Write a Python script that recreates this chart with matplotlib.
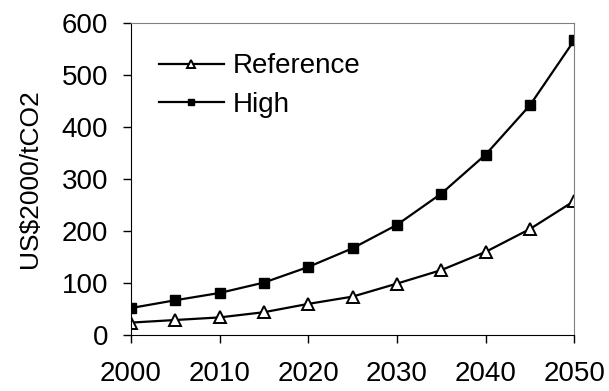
import matplotlib.pyplot as plt

plt.rcParams['font.family'] = ['Liberation Sans', 'DejaVu Sans']

years = [2000, 2005, 2010, 2015, 2020, 2025, 2030, 2035, 2040, 2045, 2050]
reference = [24, 29, 34, 44, 60, 74, 99, 125, 160, 204, 258]
high = [52, 67, 81, 101, 131, 167, 212, 272, 347, 442, 567]

fig = plt.figure(figsize=(6.09, 3.91), dpi=100)
ax = fig.add_axes([0.215, 0.143, 0.728, 0.798])

ax.plot(years, reference, color='black', lw=1.6, marker='^', ms=8,
        mfc='white', mec='black', mew=1.4, label='Reference')
ax.plot(years, high, color='black', lw=1.6, marker='s', ms=6.5,
        mfc='black', mec='black', label='High')

ax.set_xlim(2000, 2050)
ax.set_ylim(0, 600)
ax.set_xticks(range(2000, 2051, 10))
ax.set_yticks(range(0, 601, 100))
ax.tick_params(labelsize=20, width=1, direction='out')
ax.tick_params(axis='y', length=5.5, pad=11)
ax.tick_params(axis='x', length=6, pad=12.5)
ax.set_ylabel('US$2000/tCO2', fontsize=19, labelpad=14)

for s in ['top', 'right']:
    ax.spines[s].set_color('#808080')
    ax.spines[s].set_linewidth(0.8)

ax.legend(loc='upper left', frameon=False, fontsize=20, handlelength=2.34,
          handletextpad=0.32, labelspacing=0.44, borderpad=0, markerscale=0.75,
          bbox_to_anchor=(0.031, 0.947))

fig.savefig('out.png', dpi=100)
